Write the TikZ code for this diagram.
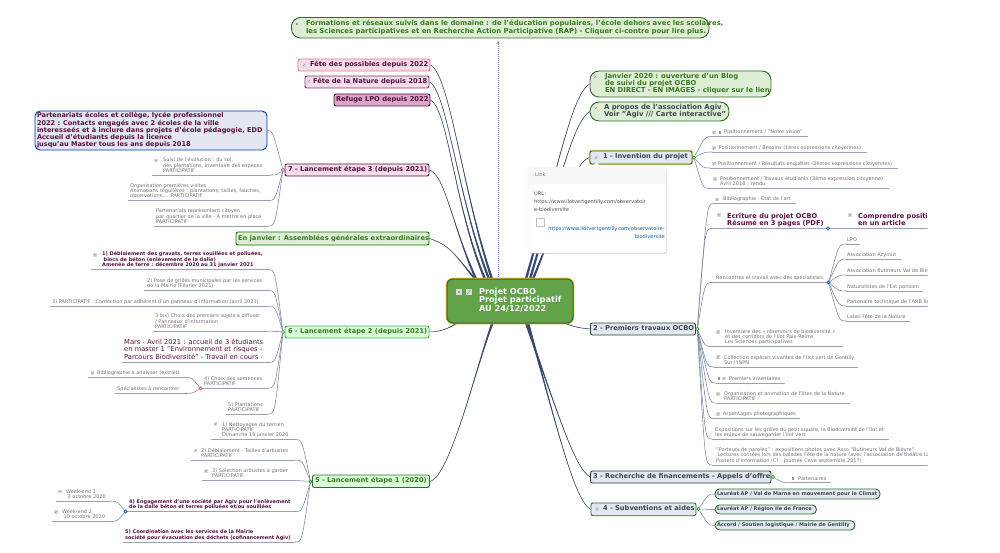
\documentclass[tikz,border=0pt]{standalone}
\usepackage{fontspec}
\setmainfont{DejaVu Sans}
\usetikzlibrary{calc,shadows,arrows.meta}
\pgfdeclarelayer{bg}\pgfsetlayers{bg,main}
\definecolor{grT}{HTML}{3C7A22}
\definecolor{grB}{HTML}{2F6B2F}
\definecolor{grF}{HTML}{DDEED5}
\definecolor{puT}{HTML}{5A1043}
\definecolor{piF}{HTML}{F4DDE8}
\definecolor{slT}{HTML}{3E4A50}
\definecolor{blF}{HTML}{E2E7F1}
\definecolor{lfT}{HTML}{786D7C}
\definecolor{brC}{HTML}{3A4A6E}
\definecolor{lnC}{HTML}{7A84A0}
\definecolor{ulC}{HTML}{9AA0B8}
\definecolor{cenF}{HTML}{62A248}
\definecolor{oraC}{HTML}{EEB035}
\definecolor{lavC}{HTML}{9A7FD8}
\definecolor{refF}{HTML}{D8A8C8}
\definecolor{yelC}{HTML}{E6CF6E}
\newcommand\tlines[1]{\begin{tabular}{@{}l@{}}#1\end{tabular}}
\newcommand\boxn[8]{%
 \pgfmathsetlengthmacro\bw{#4-#2}\pgfmathsetlengthmacro\bp{#7-#2}%
 \node[boxx,#6,minimum width=\bw,minimum height={#5pt-#3pt}] (#1) at ({(#2+#4)/2},{(#3+#5)/2}) {\makebox[\bw][l]{\hspace*{\bp}\tlines{#8}}};}
\newcommand\leafn[7]{%
 \coordinate (#1-l) at (#2,#4); \coordinate (#1-r) at (#3,#4);
 \node[leaftx,#6] (#1) at (#5,#4-1) {\tlines{#7}};
 \draw[ul] (#1-l) -- (#1-r);}
\newcommand\icn[2]{\fill[icf] (#1-1.6,#2-1.6) rectangle (#1+1.6,#2+1.6); \draw[icl] (#1-1,#2+1) -- (#1+1,#2-1);}
\newcommand\icq[2]{\fill[icd] (#1-1.4,#2-1.4) rectangle (#1+1.4,#2+1.4);}
\newcommand\conR[2]{\draw[ln] (#1) .. controls ($(#2-l)+(-7,0)$) .. (#2-l);}
\newcommand\conL[2]{\draw[ln] (#1) .. controls ($(#2-r)+(7,0)$) .. (#2-r);}
\newcommand\branch[4]{%
 \fill[brf] (#1) .. controls (#2) and (#3) .. ([xshift=1.3pt]#4) -- ([xshift=-1.3pt]#4) .. controls (#3) and (#2) .. (#1);
 \draw[brl] (#1) .. controls (#2) and (#3) .. (#4);}
\tikzset{
 boxx/.style={draw,rounded corners=2pt,inner sep=0pt,line width=.9pt},
 fb/.style={font=\fontsize{6.7}{7}\selectfont\bfseries},
 topb/.style={fb,fill=grF,draw=grB,rounded corners=9pt,text=grT},
 pkb/.style={fb,fill=piF,draw=#1,text=puT},
 gnb/.style={fb,fill=#1,draw=grB,text=grT},
 slb/.style={fb,fill=blF,draw=#1,text=slT},
 labb/.style={font=\fontsize{5.05}{5.5}\selectfont\bfseries,fill=blF,draw=grB,rounded corners=4.5pt,text=slT},
 cenb/.style={fill=#1,draw=grB,rounded corners=6pt,text=white,line width=1pt,font=\fontsize{8.2}{8.2}\selectfont\bfseries,preaction={draw=oraC,line width=2.6pt}},
 leaftx/.style={anchor=south west,inner sep=0pt,text=lfT,font=\fontsize{5}{5}\selectfont},
 bleaf/.style={text=puT,font=\fontsize{5}{5}\selectfont\bfseries},
 bigleaf/.style={text=puT,font=\fontsize{6.75}{6.7}\selectfont},
 medleaf/.style={text=puT,font=\fontsize{6.65}{6.6}\selectfont\bfseries},
 ul/.style={draw=ulC,line width=.7pt},
 ln/.style={draw=lnC,line width=.55pt},
 brf/.style={fill=brC},
 brl/.style={draw=brC,line width=.55pt},
 dotn/.style={circle,draw=#1,fill=white,inner sep=0pt,minimum size=3.4pt,line width=.7pt},
 icf/.style={fill=black!15},
 icl/.style={draw=black!40,line width=.5pt},
 icd/.style={fill=black!40},
 dotlnk/.style={draw=lavC,dash pattern=on 1pt off 1pt,line width=1pt,-{Stealth[length=3pt,width=3.5pt]}},
 popb/.style={draw=black!12,fill=white,rounded corners=2pt,line width=.4pt,drop shadow={opacity=.35,shadow xshift=.6pt,shadow yshift=-.8pt},minimum width=138pt,minimum height=86pt,inner sep=0pt},
 popt/.style={inner sep=0pt,font=\fontsize{5.1}{8.3}\selectfont,text=black!70},
 popl/.style={inner sep=0pt,font=\fontsize{5.1}{8.2}\selectfont,text=blue!45!cyan!70!black,align=right},
}
\begin{document}
\begin{tikzpicture}[x=1pt,y=-1pt]
\useasboundingbox (0,0) rectangle (1000,553);
\clip (0,0) rectangle (927.5,553);
% main boxes
\boxn{top}{291.5}{17.5}{709}{38}{topb,font=\fontsize{6.87}{7}\selectfont\bfseries}{306}{Formations et réseaux suivis dans le domaine : de l'éducation populaires, l'école dehors avec les scolaires,\\les Sciences participatives et en Recherche Action Participative (RAP) - Cliquer ci-contre pour lire plus.}
\boxn{poss}{298}{59}{430}{71}{pkb=purple!55!white}{310}{Fête des possibles depuis 2022}
\boxn{natf}{305}{76}{429}{88}{pkb=puT!80!white}{313}{Fête de la Nature depuis 2018}
\boxn{lpo}{334}{94}{430}{106}{pkb=puT,fill=refF}{336}{Refuge LPO depuis 2022}
\boxn{part}{35}{111}{267}{150}{fb,fill=blF,draw=blue!70!cyan!70!black,text=puT,rounded corners=5pt,font=\fontsize{6.55}{6.65}\selectfont\bfseries}{37}{Partenariats écoles et collège, lycée professionnel\\2022 : Contacts engagés avec 2 écoles de la ville\\interesseés et à inclure dans projets d'école pédagogie, EDD\\Accueil d'étudiants depuis la licence\\jusqu'au Master tous les ans depuis 2018}
\boxn{et7}{285}{164}{429}{176}{pkb=puT}{288}{7 - Lancement étape 3 (depuis 2021)}
\boxn{janv}{236}{232}{429}{245}{gnb=grF,draw=green!50!black}{238}{En janvier : Assemblées générales extraordinaires}
\boxn{et6}{285}{326}{429}{338}{gnb=green!15!white,draw=green!55!black!70}{288}{6 - Lancement étape 2 (depuis 2021)}
\boxn{et5}{312.5}{475}{429.5}{487.5}{gnb=green!15!white}{315}{5 - Lancement étape 1 (2020)}
\boxn{cen}{447}{279}{573}{323}{cenb=cenF}{479}{Projet OCBO\\Projet participatif\\AU 24/12/2022}
\boxn{blog}{590}{71}{771}{97}{topb,font=\fontsize{6.8}{7}\selectfont\bfseries}{605}{Janvier 2020 : ouverture d'un Blog\\de suivi du projet OCBO\\EN DIRECT - EN IMAGES - cliquer sur le lien}
\boxn{agiv}{590}{102}{729}{121}{topb,text=slT,font=\fontsize{6.9}{6.6}\selectfont\bfseries}{604}{A propos de l'association Agiv\\Voir "Agiv /// Carte interactive"}
\boxn{et1}{590}{151}{692}{164}{slb=grB,preaction={draw=yelC,line width=2.4pt}}{603}{1 - Invention du projet}
\boxn{et2}{590.5}{323}{695.5}{335}{slb=grB!70!black}{593}{2 - Premiers travaux OCBO}
\boxn{et3}{590.5}{471}{771}{483}{slb=grB!70!black}{593}{3 - Recherche de financements - Appels d'offre}
\boxn{et4}{591}{503}{696}{515.7}{slb=grB}{603}{4 - Subventions et aides}
\boxn{lau1}{715}{489}{880}{499}{labb}{717}{Lauréat AP / Val de Marne en mouvement pour le Climat}
\boxn{lau2}{715}{505}{816.5}{514}{labb}{717}{Lauréat AP / Région Ile de France}
\boxn{acc}{715}{520.7}{855}{530}{labb}{717}{Accord / Soutien logistique / Mairie de Gentilly}
% leaves, right
\leafn{a1}{712}{808}{136.5}{724}{}{Positionnement / "Notre vision"}
\leafn{a2}{712}{867}{152}{718.5}{}{Positionnement / Besoins (1ères expressions citoyennes)}
\leafn{a3}{710}{898}{168}{718}{}{Positionnement / Résultats enquêtes (2èmes expressions citoyennes)}
\leafn{a4}{710}{889}{188.5}{720}{}{Positionnement / Travaux étudiants (3ème expression citoyenne)\\Avril 2018 : rendu}
\leafn{b1}{714}{796}{203.5}{723}{}{Bibliographie - Etat de l'art}
\leafn{b2}{712}{930}{228.5}{727}{medleaf}{Ecriture du projet OCBO\\Résumé en 3 pages (PDF)}
\node[leaftx,medleaf] (b2b) at (858,227.5) {\tlines{Comprendre positionnement\\en un article}};
\leafn{b3}{712}{826}{282.5}{716}{}{Rencontres et travail avec des spécialistes}
\leafn{c1}{846}{860}{244}{847}{}{LPO}
\leafn{c2}{846}{901}{259}{847}{}{Association Azymut}
\leafn{c3}{846}{930}{275}{847}{}{Association Butineurs Val de Bièvre}
\leafn{c4}{846}{923}{291}{847}{}{Naturalistes de l'Est parisien}
\leafn{c5}{846}{930}{306}{847}{}{Partenaire technique de l'ARB Île-de-France}
\leafn{c6}{846}{910}{321}{847}{}{Label Fête de la Nature}
\leafn{b4}{712}{843}{346.5}{725}{}{Inventaire des « réservoirs de biodiversité »\\et des corridors de l'Ilot Paix-Reims\\Les Sciences participatives}
\leafn{b5}{714}{858}{367}{724}{}{Collection espèces vivantes de l'Ilot vert de Gentilly\\Sur l'INPN}
\leafn{b6}{716}{785}{383}{729}{}{Premiers inventaires}
\leafn{b7}{716}{850}{403}{724}{}{Organisation et animation de Fêtes de la Nature\\PARTICIPATIF}
\leafn{b8}{714}{800}{418.5}{723}{}{Arpentages photographiques}
\leafn{b9}{712}{889}{439}{715}{}{Expositions sur les grilles du petit square, la Biodiversité de l'Ilot et\\les enjeux de sauvegarder l'ilot vert}
\leafn{b10}{712}{930}{465}{716}{}{"Porteurs de paroles" : expositions photos avec Asso "Butineurs Val de Bièvre"\\\hspace*{1.5pt}Lectures contées lors des balades Fête de la nature (avec l'association de théâtre La\\Posters d'information (Cf : Journée Ceve septembre 2017)}
\leafn{p1}{790}{831}{482.7}{798}{}{Partenaires}
% leaves, left
\leafn{g1}{152}{270}{175}{163}{}{Suivi de l'évolution : du sol,\\des plantations, inventaire des espèces\\PARTICIPATIF}
\leafn{g2}{128}{268}{200.5}{130}{}{Organisation premières visites\\Animations régulières : plantations, tailles, fauches,\\observations.... PARTICIPATIF}
\leafn{g3}{154}{268}{226}{156}{}{Partenariats représentant citoyen\\par quartier de la ville - A mettre en place\\PARTICIPATIF}
\leafn{h1}{91}{268}{269.5}{102}{bleaf}{1) Déblaiement des gravats, terres souillées et polluées,\\\hspace*{1.5pt}blocs de béton (enlèvement de la dalle)\\Amenée de terre : décembre 2020 au 31 janvier 2021}
\leafn{h2}{144}{268}{290.5}{147}{}{2) Pose de grilles municipales par les services\\de la Mairie (Février 2021)}
\leafn{h3}{50}{268}{306}{52}{}{3) PARTICIPATIF : Confection par adhérent d'un panneau d'information (avril 2021)}
\leafn{h4}{153}{268}{331}{155}{}{3 bis) Choix des premiers sujets à diffuser\\/ Panneaux d'information\\PARTICIPATIF}
\leafn{h5}{122}{268}{362.5}{124}{bigleaf}{Mars - Avril 2021 : accueil de 3 étudiants\\en master 1 "Environnement et risques -\\Parcours Biodiversité" - Travail en cours -}
\leafn{h6}{200}{268}{388}{204}{}{4) Choix des semences\\PARTICIPATIF}
\leafn{h6a}{88}{185}{377.5}{97}{}{Bibliographie à analyser (extrait)}
\leafn{h6b}{115}{185}{393.5}{117}{}{Spécialistes à rencontrer}
\leafn{h7}{226}{268}{414}{228}{}{5) Plantations\\PARTICIPATIF}
\leafn{k1}{211}{295}{439.5}{222}{}{1) Nettoyages du terrain\\PARTICIPATIF\\Dimanche 19 janvier 2020}
\leafn{k2}{191}{295}{460}{201}{}{2) Déblaiement - Tailles d'arbustes\\PARTICIPATIF}
\leafn{k3}{202}{295}{480.5}{212}{}{3) Sélection arbustes à garder\\PARTICIPATIF}
\leafn{k4}{127}{295}{511.5}{129}{bleaf}{4) Engagement d'une société par Agiv pour l'enlèvement\\de la dalle béton et terres polluées et/ou souillées}
\leafn{k4a}{56}{110}{501}{66}{}{Week-end 1\\\hspace*{1.5pt}3 octobre 2020}
\leafn{k4b}{52}{110}{521.5}{62}{}{Week-end 2\\\hspace*{1.5pt}10 octobre 2020}
\leafn{k5}{123}{295}{542}{125}{bleaf}{5) Coordination avec les services de la Mairie\\société pour évacuation des déchets (cofinancement Agiv)}
% icons
\icq{297}{24} \icn{304}{65} \icn{309}{81} \icn{156}{160.5} \icn{95}{255} \icn{92.5}{373} \icn{215.5}{424} \icn{195.5}{450.5} \icn{206}{471} \icn{60}{491.5} \icn{56}{512}
\fill[black!15] (455.7,288.7) rectangle (462.3,295.3); \icq{459}{292} \fill[black!15] (465.5,288.7) rectangle (472,295.3); \draw[icl] (467,294) -- (470.5,290);
\icn{595}{77} \icn{596}{108} \icn{596}{157.5} \icn{597}{509}
\icn{714}{132.5} \icq{720}{132.5} \icn{714}{148} \icn{714}{163.5} \icn{715}{179} \icn{717}{199.5}
\icn{719}{215} \icn{850}{215} \icn{718}{332} \icn{718}{357} \icq{719}{378.5} \icn{724}{378.5} \icn{718}{394} \icn{718}{414} \icq{793}{478.5}
% junction dots
\node[dotn=grB!70!green] (d1) at (694,157.5) {};
\node[dotn=grB!70!green] (d2) at (697.3,329) {};
\node[dotn=grB!70!green] (d3) at (773,477) {};
\node[dotn=grB!70!green] (d4) at (698.5,509) {};
\node[dotn=blue!55!cyan!70!black] (d2a) at (828,228.5) {};
\node[dotn=blue!55!cyan!70!black] (d2b) at (828.5,282.5) {};
\node[dotn=purple!70!white] (d7) at (283,170) {};
\node[dotn=purple!70!white] (d6a) at (200.5,388.5) {};
\node[dotn=green!50!black!70] (d6) at (283,332) {};
\node[dotn=grB!70!green] (d5) at (310.5,481.5) {};
\node[dotn=blue!55!cyan!70!black] (d5a) at (125.5,511.5) {};
% anchor points on the central node
\coordinate (t1) at (492,279); \coordinate (t2) at (489,279); \coordinate (t3) at (485,279);
\coordinate (t4) at (476,279); \coordinate (t5) at (475,279);
\coordinate (t6) at (526,279); \coordinate (t7) at (530,279); \coordinate (t8) at (533,279);
\coordinate (s1) at (457,323); \coordinate (s2) at (492.5,323); \coordinate (s3) at (564,323);
\coordinate (s4) at (526,323); \coordinate (s5) at (528,323);
\coordinate (lnk) at (498,41);
\draw[dotlnk] (498,279) -- (lnk);
\begin{pgfonlayer}{bg}
\branch{poss.east}{450,75}{462,190}{t1}
\branch{natf.east}{447,90}{458,200}{t2}
\branch{lpo.east}{448,108}{455,210}{t3}
\branch{et7.east}{445,175}{452,225}{t4}
\branch{janv.east}{450,245}{455,255}{t5}
\branch{et6.east}{440,332}{450,328}{s1}
\branch{et5.east}{450,478}{478,360}{s2}
\branch{blog.west}{572,95}{560,160}{t6}
\branch{agiv.west}{575,122}{565,160}{t7}
\branch{et1.west}{575,162}{565,200}{t8}
\branch{et2.west}{578,328}{572,326}{s3}
\branch{et3.west}{575,468}{560,420}{s4}
\branch{et4.west}{575,500}{560,440}{s5}
\conR{d1}{a1}\conR{d1}{a2}\conR{d1}{a3}\conR{d1}{a4}
\conR{d2}{b1}\conR{d2}{b2}\conR{d2}{b3}\conR{d2}{b4}\conR{d2}{b5}\conR{d2}{b6}\conR{d2}{b7}\conR{d2}{b8}\conR{d2}{b9}\conR{d2}{b10}
\conR{d2b}{c1}\conR{d2b}{c2}\conR{d2b}{c3}\conR{d2b}{c4}\conR{d2b}{c5}\conR{d2b}{c6}
\conR{d3}{p1}
\draw[ln] (d4) .. controls ($(lau1.west)+(-6,0)$) .. (lau1.west);
\draw[ln] (d4) -- (lau2.west);
\draw[ln] (d4) .. controls ($(acc.west)+(-6,0)$) .. (acc.west);
\draw[ln] (d7) .. controls ($(part.east)+(5,0)$) .. (part.east);
\conL{d7}{g1}\conL{d7}{g2}\conL{d7}{g3}
\conL{d6}{h1}\conL{d6}{h2}\conL{d6}{h3}\conL{d6}{h4}\conL{d6}{h5}\conL{d6}{h6}\conL{d6}{h7}
\conL{d6a}{h6a}\conL{d6a}{h6b}
\conL{d5}{k1}\conL{d5}{k2}\conL{d5}{k3}\conL{d5}{k4}\conL{d5}{k5}
\conL{d5a}{k4a}\conL{d5a}{k4b}
\end{pgfonlayer}
% link pop-up
\node[popb] (pop) at (597,210) {};
\fill[white] (591,167.5) -- (596.5,162.5) -- (602,167.5) -- cycle;
\path[fill=black!3] ([xshift=.5pt,yshift=-.5pt]pop.north west) rectangle ([xshift=-.5pt,yshift=-17pt]pop.north east);
\node[popt,anchor=west,text=black!55] (popH) at (535,175) {Link};
\node[popt,anchor=north west] (popU) at (534,189) {\tlines{URL:\\https://www.ilotvertgentilly.com/observatoir\\e-biodiversite}};
\node[draw=black!25,fill=white,minimum size=8pt,inner sep=0pt,line width=.4pt] (popC) at (540,222) {};
\node[popl,anchor=north east] (popL) at (665,226.5) {https://www.ilotvertgentilly.com/observatoire-\\biodiversite};
\end{tikzpicture}
\end{document}
